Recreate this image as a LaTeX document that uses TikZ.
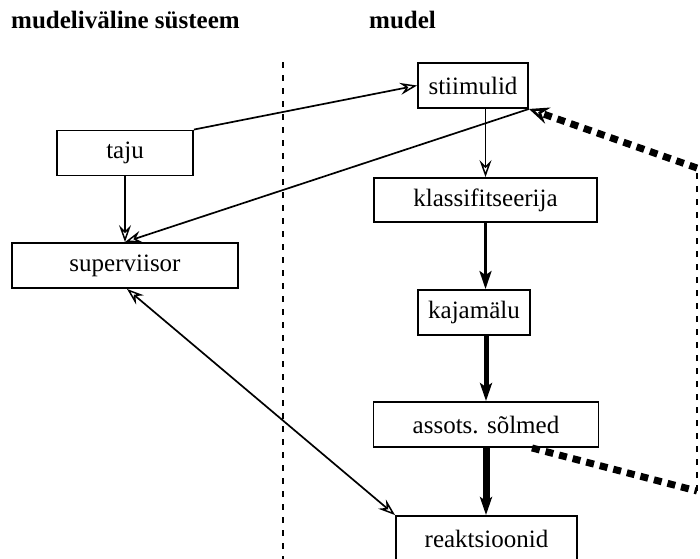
\documentclass[tikz,border=0pt]{standalone}
\usepackage{fontspec}
\setmainfont{Liberation Serif}
\usetikzlibrary{arrows.meta,calc}

\tikzset{
    box/.style={draw, line width=1.9pt, minimum height=45pt, inner sep=0pt,
        font=\fontsize{25}{30}\selectfont},
    title/.style={anchor=base west, inner sep=0pt, font=\fontsize{25}{30}\selectfont\bfseries},
    thin/.style={line width=1.7pt, -{Stealth[open, length=17pt, width=12pt, inset=6pt, line width=1.5pt]}},
    fat/.style={line width=#1, -{Stealth[length=18pt, width=12pt, inset=4pt]}},
    feedback/.style={line width=7pt, dash pattern=on 8pt off 6pt}
}

\begin{document}
\begin{tikzpicture}[x=1pt, y=-1pt]
    \useasboundingbox (0,0) rectangle (700,558);

    % pealkirjad
    \node[title] (tmv) at (11,28) {mudeliväline süsteem};
    \node[title] (tm) at (369,28) {mudel};

    % eraldusjoon
    \coordinate (sepa) at (283,62);
    \coordinate (sepb) at (283,560);
    \draw[line width=1.6pt, dash pattern=on 6pt off 7pt] (sepa) -- (sepb);

    % plokid
    \node[box, minimum width=136pt] (taju) at (125,153) {taju};
    \node[box, minimum width=226pt] (superviisor) at (125,265.5) {superviisor};
    \node[box, minimum width=110pt] (stiimulid) at (473,85.5) {stiimulid};
    \node[box, minimum width=223pt, minimum height=44pt] (klass) at (485.5,200) {klassifitseerija};
    \node[box, minimum width=112pt] (kajamalu) at (474,312.5) {kajamälu};
    \node[box, minimum width=225pt] (assots) at (486,424.5) {assots. sõlmed};
    \node[box, minimum width=181pt] (reakt) at (486.5,538.5) {reaktsioonid};

    % noolted
    \draw[thin] (taju.north east) -- (stiimulid.west);
    \draw[thin] (stiimulid.south east) -- (superviisor.north);
    \draw[thin] (taju.south) -- (superviisor.north);
    \draw[thin] (stiimulid.south -| klass.north) -- (klass.north);
    \draw[fat=3pt] (klass.south) -- (klass.south |- kajamalu.north);
    \draw[fat=5pt] (assots.north |- kajamalu.south) -- (assots.north);
    \draw[fat=7pt] (assots.south) -- (assots.south |- reakt.north);
    \draw[thin, {Stealth[open, length=17pt, width=12pt, inset=6pt, line width=1.5pt]}-{Stealth[open, length=17pt, width=12pt, inset=6pt, line width=1.5pt]}]
        ($(superviisor.south)+(2,0)$) -- (reakt.north west);

    % tagasiside
    \coordinate (fbstart) at ($(assots.south)+(46,0)$);
    \coordinate (fbbot) at (697,491);
    \coordinate (fbtop) at (697,168);
    \draw[feedback] (fbstart) -- (fbbot);
    \draw[line width=1.8pt, dash pattern=on 6pt off 7pt] (fbbot) -- (fbtop);
    \draw[feedback, -{Stealth[open, length=20pt, width=17pt, inset=7pt, line width=2.5pt]}]
        (fbtop) -- (stiimulid.south east);
\end{tikzpicture}
\end{document}
